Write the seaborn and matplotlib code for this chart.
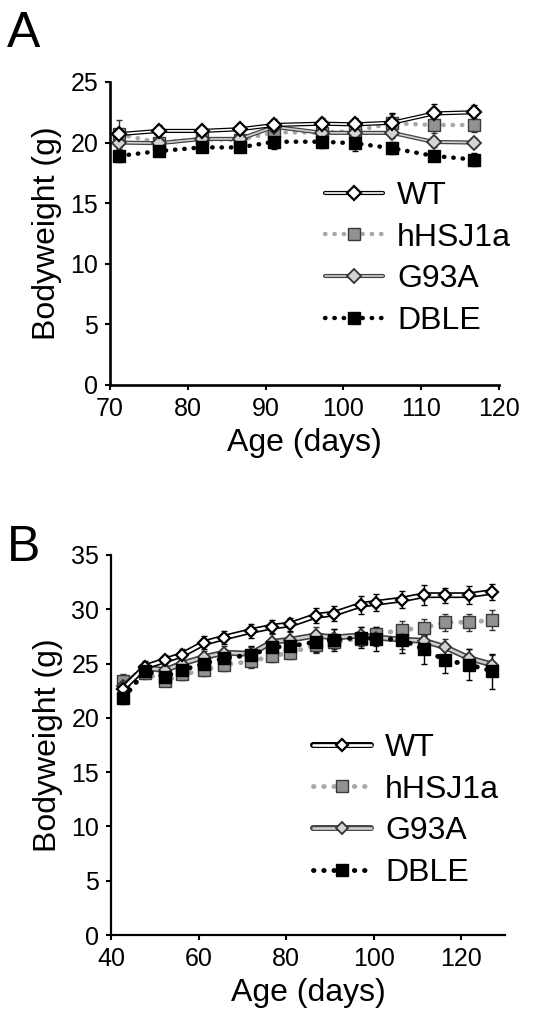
import numpy as np
import matplotlib
matplotlib.use("Agg")
import matplotlib.pyplot as plt
from matplotlib.legend_handler import HandlerTuple
import seaborn as sns

sns.set_theme(style="ticks")
plt.rcParams['font.family'] = ['Liberation Sans', 'DejaVu Sans']
plt.rcParams['text.color'] = 'black'
plt.rcParams['axes.labelcolor'] = 'black'
plt.rcParams['xtick.color'] = 'black'
plt.rcParams['ytick.color'] = 'black'

groups = ["WT", "hHSJ1a", "G93A", "DBLE"]

# panel A
days_a = [71.2, 76.3, 81.8, 86.7, 91.1, 97.3, 101.5, 106.3, 111.6, 116.8]
wt_a = [20.7, 20.96, 20.96, 21.1, 21.45, 21.56, 21.5, 21.64, 22.4, 22.5]
hhsj_a = [20.68, 20.0, 20.27, 20.21, 20.85, 20.82, 20.96, 21.59, 21.45, 21.45]
g93a_a = [20.0, 19.95, 20.3, 20.3, 21.3, 20.8, 20.8, 20.8, 20.05, 20.0]
dble_a = [18.9, 19.3, 19.6, 19.6, 20.07, 20.07, 19.94, 19.53, 18.9, 18.6]
wt_a_err = [0.4, 0.5, 0.3, 0.3, 0.5, 0.5, 0.5, 0.8, 0.8, 0.6]
hhsj_a_err = [1.2, 0.5, 0.4, 0.4, 0.6, 0.5, 0.5, 0.8, 0.7, 0.6]
g93a_a_err = [0.4, 0.4, 0.3, 0.3, 0.6, 0.4, 0.4, 0.4, 0.4, 0.4]
dble_a_err = [0.5, 0.4, 0.3, 0.3, 0.6, 0.5, 0.6, 0.5, 0.4, 0.5]

# panel B
days_b = [42.8, 47.8, 52.4, 56.2, 61.3, 65.9, 72.0, 76.8, 81.0, 86.8,
          91.0, 97.0, 100.6, 106.5, 111.5, 116.4, 121.8, 127.1]
wt_b = [22.7, 24.7, 25.3, 25.8, 26.9, 27.4, 28.0, 28.4, 28.6, 29.4,
        29.6, 30.4, 30.6, 30.9, 31.3, 31.3, 31.3, 31.6]
hhsj_b = [23.4, 24.1, 23.4, 24.0, 24.4, 24.9, 25.2, 25.7, 26.0, 26.7,
          27.0, 27.3, 27.7, 28.1, 28.3, 28.8, 28.8, 29.0]
g93a_b = [22.9, 24.6, 24.4, 25.0, 25.6, 26.0, 25.9, 27.0, 27.2, 27.6,
          27.4, 27.6, 27.4, 27.2, 27.1, 26.5, 25.5, 24.9]
dble_b = [21.8, 24.3, 23.8, 24.4, 25.0, 25.5, 25.8, 26.5, 26.6, 27.0,
          27.2, 27.4, 27.3, 27.2, 26.3, 25.3, 24.9, 24.3]
wt_b_err = [0.5, 0.5, 0.5, 0.5, 0.6, 0.6, 0.6, 0.6, 0.6, 0.7,
            0.7, 0.8, 0.8, 0.8, 0.9, 0.7, 0.8, 0.7]
hhsj_b_err = [0.6, 0.5, 0.5, 0.5, 0.5, 0.6, 0.6, 0.6, 0.6, 0.7,
              0.7, 0.7, 0.7, 0.8, 0.8, 0.8, 0.8, 0.9]
g93a_b_err = [0.5, 0.5, 0.5, 0.5, 0.6, 0.6, 0.6, 0.7, 0.7, 0.8,
              0.8, 0.8, 0.8, 0.9, 1.0, 0.8, 0.8, 0.9]
dble_b_err = [0.5, 0.6, 0.6, 0.6, 0.7, 0.7, 0.8, 0.8, 0.8, 0.9,
              1.0, 1.0, 1.1, 1.2, 1.3, 1.2, 1.4, 1.6]


def draw_panel(ax, days, series, errs, sz):
    outer, inner, dot_lw, ms_d, ms_s = sz
    wt, hh, g9, db = series
    wt_e, hh_e, g9_e, db_e = errs

    for vals, e, c in [(hh, hh_e, "#333333"), (g9, g9_e, "#333333"),
                       (wt, wt_e, "black"), (db, db_e, "black")]:
        ax.errorbar(days, vals, yerr=e, fmt="none", ecolor=c,
                    elinewidth=1.0, capsize=2.5, capthick=1.0, zorder=1.5)

    # hHSJ1a: grey dotted, grey squares
    sns.lineplot(x=days, y=hh, ax=ax, color="#a8a8a8", lw=dot_lw,
                 linestyle=(0, (0.1, 2.0)), dash_capstyle="round",
                 marker="s", markersize=ms_s, markerfacecolor="#929292",
                 markeredgecolor="#3a3a3a", markeredgewidth=1.0, errorbar=None)
    h_hh = ax.lines[-1]

    # G93A: grey double line, light grey diamonds
    sns.lineplot(x=days, y=g9, ax=ax, color="#444444", lw=outer, errorbar=None)
    g_out = ax.lines[-1]
    sns.lineplot(x=days, y=g9, ax=ax, color="#cfcfcf", lw=inner,
                 marker="D", markersize=ms_d, markerfacecolor="#d4d4d4",
                 markeredgecolor="#333333", markeredgewidth=1.3, errorbar=None)
    g_in = ax.lines[-1]

    # WT: black/white double line, white diamonds
    sns.lineplot(x=days, y=wt, ax=ax, color="black", lw=outer, errorbar=None)
    w_out = ax.lines[-1]
    sns.lineplot(x=days, y=wt, ax=ax, color="white", lw=inner,
                 marker="D", markersize=ms_d, markerfacecolor="white",
                 markeredgecolor="black", markeredgewidth=1.6, errorbar=None)
    w_in = ax.lines[-1]

    # DBLE: black dotted, black squares
    sns.lineplot(x=days, y=db, ax=ax, color="black", lw=dot_lw,
                 linestyle=(0, (0.1, 2.0)), dash_capstyle="round",
                 marker="s", markersize=ms_s, markerfacecolor="black",
                 markeredgecolor="black", markeredgewidth=1.0, errorbar=None)
    h_db = ax.lines[-1]

    return [(w_out, w_in), h_hh, (g_out, g_in), h_db]


def style_axes(ax, spine_w):
    sns.despine(ax=ax)
    for s in ["left", "bottom"]:
        ax.spines[s].set_linewidth(spine_w)
        ax.spines[s].set_color("black")
    ax.tick_params(direction="out", length=3.5, width=1.5, colors="black",
                   labelsize=18, pad=5)
    ax.set_ylabel("Bodyweight (g)", fontsize=23, labelpad=6)
    ax.set_xlabel("Age (days)", fontsize=23, labelpad=5)


fig = plt.figure(figsize=(5.37, 10.31), dpi=100)

ax_a = fig.add_axes([0.2048, 0.6266, 0.7244, 0.2939])
handles = draw_panel(ax_a, days_a, (wt_a, hhsj_a, g93a_a, dble_a),
                     (wt_a_err, hhsj_a_err, g93a_a_err, dble_a_err),
                     (3.0, 1.2, 3.2, 7.0, 8.8))
ax_a.set_xlim(70, 120)
ax_a.set_ylim(0, 25)
ax_a.set_xticks([70, 80, 90, 100, 110, 120])
ax_a.set_yticks([0, 5, 10, 15, 20, 25])
style_axes(ax_a, 1.9)
ax_a.legend(handles, groups, handler_map={tuple: HandlerTuple(ndivide=1)},
            loc="upper left", bbox_to_anchor=(0.553, 0.674), frameon=False,
            fontsize=23, handlelength=1.8, handletextpad=0.45,
            labelspacing=0.37, borderaxespad=0, borderpad=0)

ax_b = fig.add_axes([0.2067, 0.0931, 0.7337, 0.3686])
handles = draw_panel(ax_b, days_b, (wt_b, hhsj_b, g93a_b, dble_b),
                     (wt_b_err, hhsj_b_err, g93a_b_err, dble_b_err),
                     (4.3, 1.9, 3.5, 6.5, 8.0))
ax_b.set_xlim(40, 130)
ax_b.set_ylim(0, 35)
ax_b.set_xticks([40, 60, 80, 100, 120])
ax_b.set_yticks([0, 5, 10, 15, 20, 25, 30, 35])
style_axes(ax_b, 1.6)
ax_b.legend(handles, groups, handler_map={tuple: HandlerTuple(ndivide=1)},
            loc="upper left", bbox_to_anchor=(0.513, 0.532), frameon=False,
            fontsize=23, handlelength=1.8, handletextpad=0.45,
            labelspacing=0.37, borderaxespad=0, borderpad=0)

fig.text(0.013, 0.954, "A", fontsize=36, va="baseline", ha="left")
fig.text(0.013, 0.456, "B", fontsize=36, va="baseline", ha="left")

fig.savefig("out.png", dpi=100)
